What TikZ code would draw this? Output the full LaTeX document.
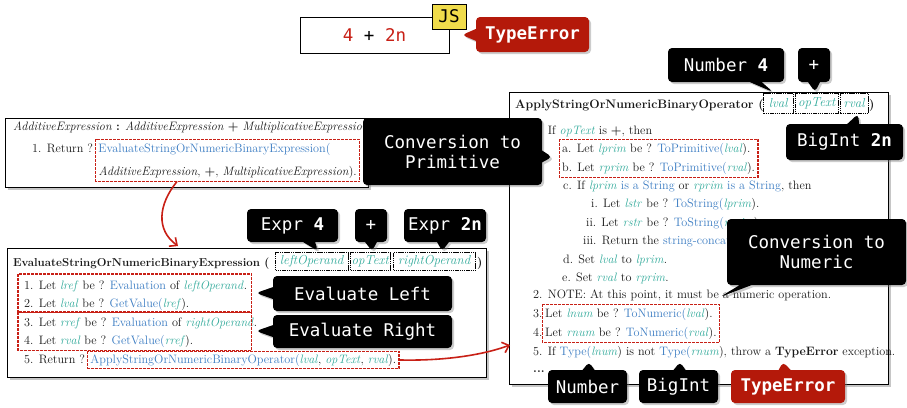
\documentclass[tikz,border=0pt]{standalone}
\usepackage{fontspec}
\newfontfamily\monofont{DejaVu Sans Mono}
\usetikzlibrary{shapes.callouts,shadows,arrows.meta,fit}
\definecolor{cred}{RGB}{200,32,22}
\definecolor{cerr}{RGB}{180,25,10}
\definecolor{cteal}{RGB}{50,170,155}
\definecolor{cblue}{RGB}{60,125,195}
\definecolor{ctext}{RGB}{25,25,25}
\definecolor{cjs}{RGB}{240,220,75}
\newcommand\myv[1]{\textcolor{cteal}{\textit{#1}}}
\newcommand\myf[1]{\textcolor{cblue}{#1}}
\newcommand\bodyf{\fontsize{12.2}{14}\selectfont}
\newcommand\tagf{\monofont\fontsize{17.5}{20}\selectfont}
\tikzset{
 spec/.style={draw=black, line width=0.8pt, fill=white, drop shadow={shadow xshift=2.5pt, shadow yshift=-2.5pt, opacity=0.45}, anchor=north west, inner sep=0},
 ln/.style={anchor=base west, inner sep=0, font=\bodyf, text=ctext},
 redline/.style={draw=cred, line width=1.4pt, dash pattern=on 3pt off 1pt},
 redbox/.style={anchor=north west, inner sep=0},
 redfit/.style={inner xsep=2.5pt, inner ysep=3pt},
 parbox/.style={draw=black, line width=1pt, dash pattern=on 1.5pt off 0.7pt, anchor=north west, inner sep=0, font=\fontsize{13}{14}\selectfont},
 tag/.style={rectangle callout, fill=black, text=white, rounded corners=4pt, inner sep=0, font=\tagf, callout pointer width=12pt, drop shadow={shadow xshift=2pt, shadow yshift=-2pt, opacity=0.4}},
 errtag/.style={tag, fill=cerr, font=\tagf\bfseries},
 redarrow/.style={draw=cred, line width=1.6pt, -{Straight Barb[length=6pt,width=11pt]}}
}
\begin{document}
\begin{tikzpicture}[x=1pt,y=-1pt]
\useasboundingbox (0,0) rectangle (907,407);

% top code box
\node[draw=black, line width=1pt, fill=white, minimum width=149pt, minimum height=36pt, inner sep=0, font=\tagf] (code) at (374.5,35) {\textcolor{cred}{4} + \textcolor{cred}{2n}};
\node[draw=black, line width=1pt, fill=cjs, minimum width=34pt, minimum height=25pt, inner sep=0, font=\tagf] (js) at (449,16.5) {JS};
\node[errtag, minimum width=113pt, minimum height=35pt, callout absolute pointer={(462,35)}] (te1) at (532.5,34.5) {TypeError};

% box 1
\node[spec, minimum width=363pt, minimum height=69pt] (b1) at (5,118) {};
\node[ln] (b1t) at (13,130) {\textit{AdditiveExpression} \textbf{:} \textit{AdditiveExpression} \textbf{+} \textit{MultiplicativeExpression}};
\node[ln] (b1l1) at (32,152) {1. Return ?};
\node[ln, anchor=base west] (b1l1b) at ([xshift=5pt]b1l1.base east) {\myf{EvaluateStringOrNumericBinaryExpression(}};
\node[ln, anchor=base east] (b1l2) at (357,175) {\textit{AdditiveExpression}, \textbf{+}, \textit{MultiplicativeExpression}).};
\node[redfit, fit=(b1l1b)(b1l2)] (r1) {};

% box 2
\node[spec, minimum width=479pt, minimum height=129pt] (b2) at (7,248) {};
\node[ln, font=\fontsize{11.5}{14}\selectfont] (b2t) at (13,266) {\textbf{EvaluateStringOrNumericBinaryExpression (}};
\node[parbox, minimum width=73pt, minimum height=18pt] (p1) at (275,252) {\myv{leftOperand}};
\node[parbox, minimum width=40pt, minimum height=18pt] (p2) at (350,252) {\myv{opText}};
\node[parbox, minimum width=82pt, minimum height=18pt] (p3) at (393,252) {\myv{rightOperand}};
\node[ln] (b2c) at (477,266) {\textbf{)}};
\node[ln] (b2l1) at (24,289) {1. Let \myv{lref} be ? \myf{Evaluation} of \myv{leftOperand}.};
\node[ln] (b2l2) at (24,307) {2. Let \myv{lval} be ? \myf{GetValue(}\myv{lref}).};
\node[ln] (b2l3) at (24,326) {3. Let \myv{rref} be ? \myf{Evaluation} of \myv{rightOperand}.};
\node[ln] (b2l4) at (24,344) {4. Let \myv{rval} be ? \myf{GetValue(}\myv{rref}).};
\node[ln] (b2l5) at (24,363) {5. Return ?};
\node[ln, anchor=base west] (b2l5b) at ([xshift=5pt]b2l5.base east) {\myf{ApplyStringOrNumericBinaryOperator(}\myv{lval}, \myv{opText}, \myv{rval}).};
\node[redbox, minimum width=233pt, minimum height=38pt] (rA) at (18,274) {};
\node[redbox, minimum width=233pt, minimum height=38pt] (rB) at (18,312) {};
\node[redfit, inner ysep=2pt, fit=(b2l5b)] (rC) {};

% box 3
\node[spec, minimum width=379pt, minimum height=292pt] (b3) at (509,92) {};
\node[ln, font=\fontsize{12.3}{14}\selectfont] (b3t) at (515,108) {\textbf{ApplyStringOrNumericBinaryOperator (}};
\node[parbox, minimum width=30pt, minimum height=20pt] (q1) at (763,93) {\myv{lval}};
\node[parbox, minimum width=43pt, minimum height=20pt] (q2) at (795,93) {\myv{opText}};
\node[parbox, minimum width=28pt, minimum height=20pt] (q3) at (840,93) {\myv{rval}};
\node[ln] (b3c) at (869,108) {\textbf{)}};
\node[ln] (c1) at (533,134) {1. If \myv{opText} is \textbf{+}, then};
\node[ln] (c1a) at (562,152) {a. Let \myv{lprim} be ? \myf{ToPrimitive(}\myv{lval}).};
\node[ln] (c1b) at (562,171) {b. Let \myv{rprim} be ? \myf{ToPrimitive(}\myv{rval}).};
\node[ln] (c1c) at (563,189) {c. If \myv{lprim} \myf{is a String} or \myv{rprim} \myf{is a String}, then};
\node[ln] (c1ci) at (591,207) {i. Let \myv{lstr} be ? \myf{ToString(}\myv{lprim}).};
\node[ln] (c1cii) at (586,226) {ii. Let \myv{rstr} be ? \myf{ToString(}\myv{rprim}).};
\node[ln] (c1ciii) at (583,244) {iii. Return the \myf{string-concatenation} of \myv{lstr} and \myv{rstr}.};
\node[ln] (c1d) at (563,263) {d. Set \myv{lval} to \myv{lprim}.};
\node[ln] (c1e) at (562,281) {e. Set \myv{rval} to \myv{rprim}.};
\node[ln] (c2) at (533,298) {2. NOTE: At this point, it must be a numeric operation.};
\node[ln] (c3) at (533,317) {3.};
\node[ln] (c3b) at (545,317) {Let \myv{lnum} be ? \myf{ToNumeric(}\myv{lval}).};
\node[ln] (c4) at (533,336) {4.};
\node[ln] (c4b) at (545,336) {Let \myv{rnum} be ? \myf{ToNumeric(}\myv{rval}).};
\node[ln] (c5) at (533,355) {5. If \myf{Type(}\myv{lnum}) is not \myf{Type(}\myv{rnum}), throw a \textbf{TypeError} exception.};
\node[ln] (c6) at (533,372) {\textbf{...}};
\node[redfit, fit=(c1a)(c1b)] (rD) {};
\node[redfit, fit=(c3b)(c4b)] (rE) {};

% red dashed frames
\begin{scope}[color=cred]
\foreach \r in {r1,rA,rB,rC,rD,rE}
  \draw[redline] (\r.north west) rectangle (\r.south east);
\end{scope}

% arrows
\coordinate (a1x) at (177,0);
\coordinate (a1s) at (a1x |- r1.south);
\coordinate (a1e) at (178,246);
\draw[redarrow] (a1s) .. controls (158,205) and (156,230) .. (a1e);
\coordinate (a2e) at (510,345);
\draw[redarrow] (rC.east) .. controls (440,361) and (480,356) .. (a2e);

% tags
\node[tag, minimum width=91pt, minimum height=33pt, callout absolute pointer={(318,251)}] (tE4) at (292.5,225.5) {Expr \textbf{4}};
\node[tag, minimum width=32pt, minimum height=33pt, callout absolute pointer={(372,251)}] (tEp) at (371,225.5) {+};
\node[tag, minimum width=82pt, minimum height=33pt, callout absolute pointer={(442,251)}] (tE2) at (445,225.5) {Expr \textbf{2n}};
\node[tag, minimum width=179pt, minimum height=35pt, callout absolute pointer={(256,293)}] (tEL) at (362.5,293.5) {Evaluate Left};
\node[tag, minimum width=179pt, minimum height=33pt, callout absolute pointer={(256,331)}] (tER) at (362.5,331.5) {Evaluate Right};
\node[tag, minimum width=116pt, minimum height=34pt, callout absolute pointer={(773,92)}] (tN4) at (726,65) {Number \textbf{4}};
\node[tag, minimum width=32pt, minimum height=34pt, callout absolute pointer={(815,92)}] (tNp) at (814,65) {+};
\node[tag, minimum width=117pt, minimum height=36pt, callout absolute pointer={(858,114)}] (tB2) at (844.5,142) {BigInt \textbf{2n}};
\node[tag, minimum width=179pt, minimum height=67pt, align=center, callout absolute pointer={(552,157)}] (tCP) at (452.5,151.5) {Conversion to\\Primitive};
\node[tag, minimum width=179pt, minimum height=66pt, align=center, callout absolute pointer={(720,297)}] (tCN) at (816.5,252) {Conversion to\\Numeric};
\node[tag, minimum width=79pt, minimum height=33pt, callout absolute pointer={(589,362)}] (tNum) at (587.5,386.5) {Number};
\node[tag, minimum width=79pt, minimum height=33pt, callout absolute pointer={(680,362)}] (tBI) at (678.5,386.5) {BigInt};
\node[errtag, minimum width=114pt, minimum height=33pt, callout absolute pointer={(783,362)}] (tTE) at (788,386.5) {TypeError};
\end{tikzpicture}
\end{document}
